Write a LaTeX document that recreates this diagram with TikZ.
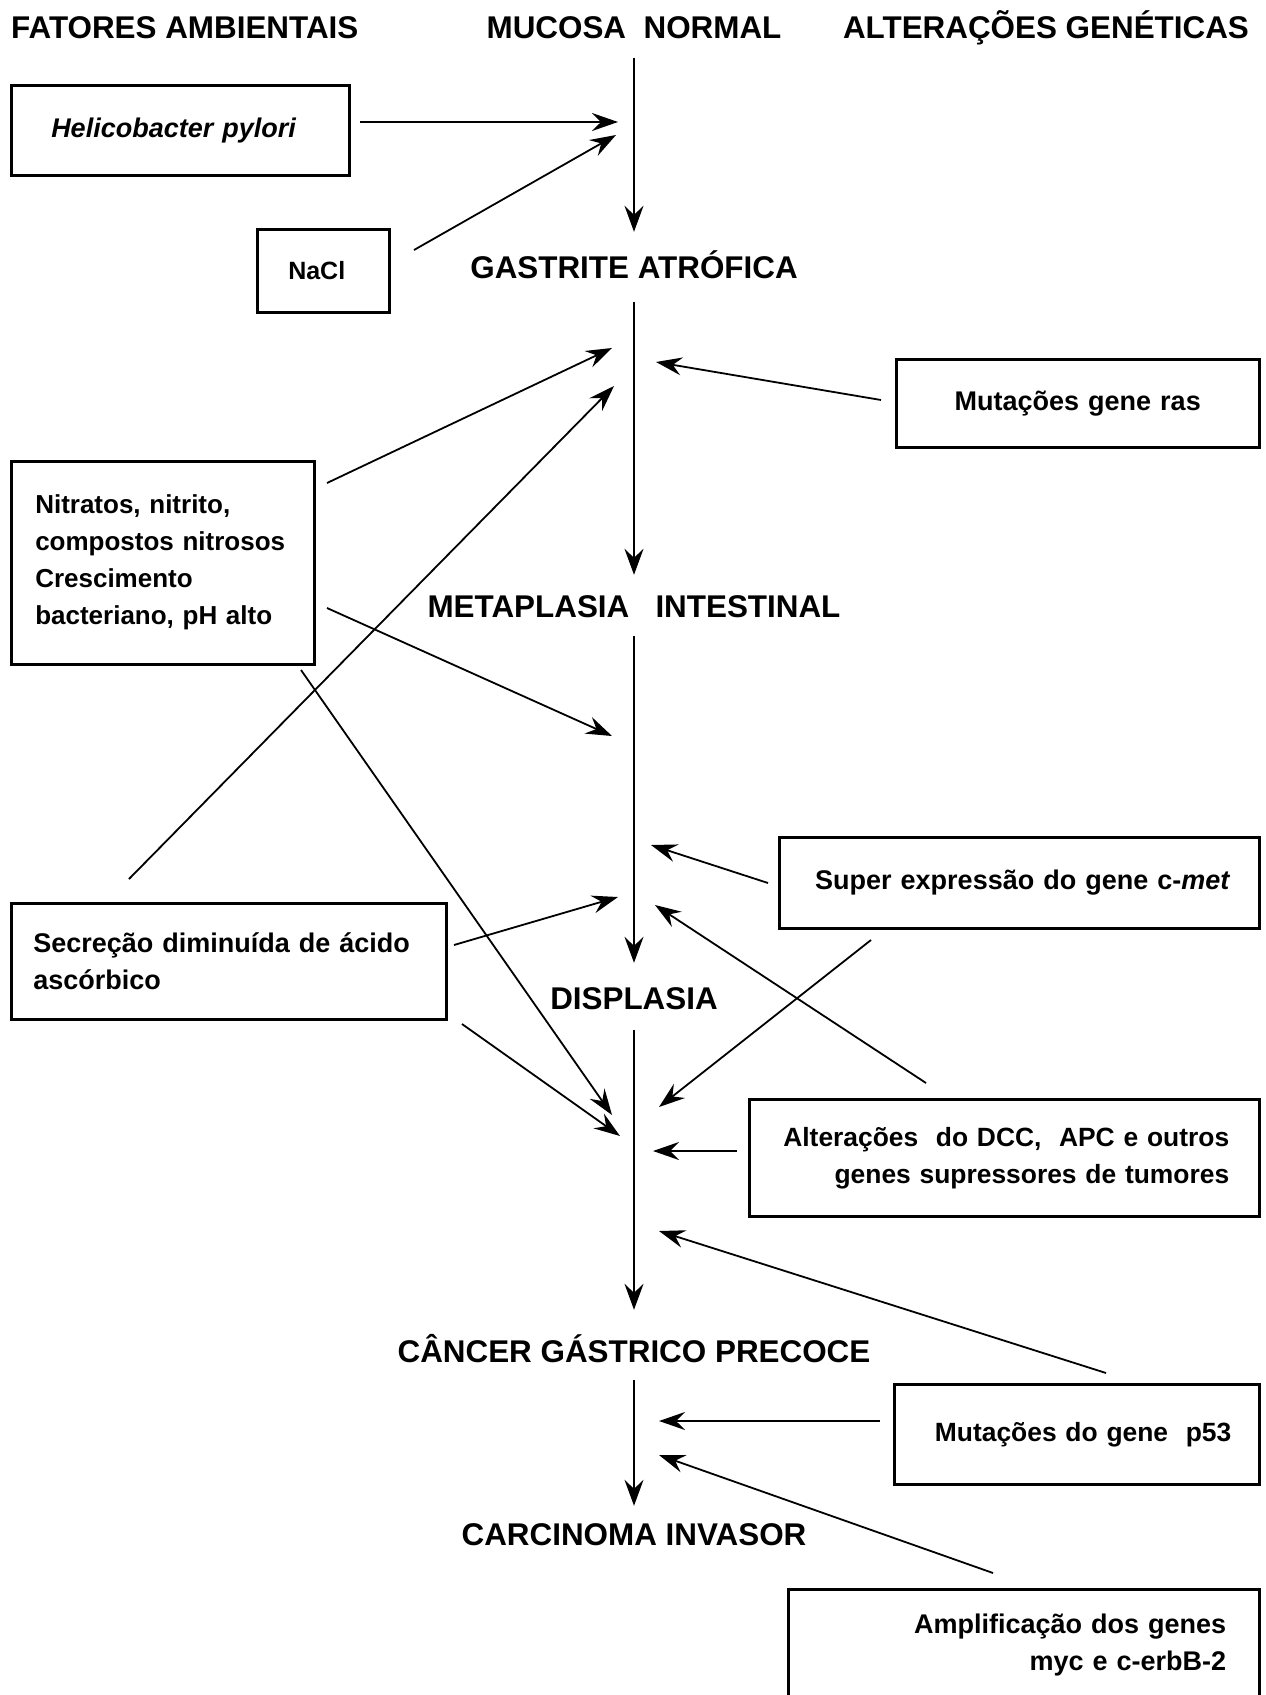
\documentclass[tikz,border=0pt]{standalone}
\usepackage{fontspec}
\setmainfont{Liberation Sans}
\usetikzlibrary{arrows.meta}
\newcommand\hdfont{\fontsize{31.4}{38}\selectfont\bfseries}
\newcommand\bxfont{\fontsize{27}{37}\selectfont\bfseries}
\begin{document}
\begin{tikzpicture}[x=1pt,y=-1pt,
  head/.style={font=\hdfont, inner sep=0pt, text height=23pt, text depth=0pt, anchor=base},
  box/.style={draw, line width=2.5pt, font=\bxfont, inner ysep=0pt, anchor=north west},
  mainline/.style={line width=1.6pt, -{Stealth[length=26pt,width=19pt,inset=9pt]}},
  conn/.style={line width=1.8pt, -{Stealth[length=26pt,width=18pt,inset=9pt]}},
]
\useasboundingbox (0,0) rectangle (1266,1695);

% headings
\node[head, anchor=base west] (fatores) at (11,38) {FATORES AMBIENTAIS};
\node[head] (mucosa) at (634,38) {MUCOSA\ \ NORMAL};
\node[head] (alteracoes) at (1046,38) {ALTERAÇÕES GENÉTICAS};
\node[head] (gastrite) at (634,278) {GASTRITE ATRÓFICA};
\node[head] (metaplasia) at (634,617) {METAPLASIA\ \ \ INTESTINAL};
\node[head] (displasia) at (634,1009) {DISPLASIA};
\node[head] (cancer) at (634,1362) {CÂNCER GÁSTRICO PRECOCE};
\node[head] (carcinoma) at (634,1545) {CARCINOMA INVASOR};

% main progression
\draw[mainline, shorten <=20pt, shorten >=23pt] (mucosa.south) -- (gastrite.north);
\draw[mainline, shorten <=24pt, shorten >=19pt] (gastrite.south) -- (metaplasia.north);
\draw[mainline, shorten <=19pt, shorten >=23pt] (metaplasia.south) -- (displasia.north);
\draw[mainline, shorten <=21pt, shorten >=29pt] (displasia.south) -- (cancer.north);
\draw[mainline, shorten <=18pt, shorten >=16pt] (cancer.south) -- (carcinoma.north);

% boxes
\node[box, minimum width=338pt, minimum height=90pt, inner xsep=40pt, text width=258pt, align=left] (helico) at (10,84) {\itshape Helicobacter pylori};
\node[box, minimum width=132pt, minimum height=83pt, inner xsep=31pt, text width=70pt, align=left, font=\fontsize{25}{30}\selectfont\bfseries] (nacl) at (256,228) {NaCl};
\node[box, minimum width=303pt, minimum height=203pt, inner xsep=24pt, text width=255pt, align=left, font=\fontsize{26}{37}\selectfont\bfseries] (nitratos) at (10,460) {Nitratos, nitrito,\\compostos nitrosos\\Crescimento\\bacteriano, pH alto};
\node[box, minimum width=435pt, minimum height=116pt, inner xsep=22pt, text width=391pt, align=left] (secrecao) at (10,902) {Secreção diminuída de ácido\\ascórbico};
\node[box, minimum width=363pt, minimum height=88pt, inner xsep=20pt, text width=323pt, align=center] (ras) at (895,358) {Mutações gene ras};
\node[box, minimum width=480pt, minimum height=91pt, inner xsep=29pt, text width=422pt, align=right] (cmet) at (778,836) {Super expressão do gene c-\textit{met}};
\node[box, minimum width=510pt, minimum height=117pt, inner xsep=30pt, text width=450pt, align=right, font=\fontsize{26.4}{37}\selectfont\bfseries] (dcc) at (748,1098) {Alterações~ do DCC,~ APC e outros\\genes supressores de tumores};
\node[box, minimum width=365pt, minimum height=100pt, inner xsep=28pt, text width=309pt, align=right, font=\fontsize{26.4}{37}\selectfont\bfseries] (p53) at (893,1383) {Mutações do gene~ p53};
\node[box, minimum width=471pt, minimum height=112pt, inner xsep=33pt, text width=405pt, align=right] (myc) at (787,1588) {Amplificação dos genes\\myc e c-erbB-2};

% connector end points
\coordinate (hs) at (360,122);  \coordinate (ht) at (618,122);
\coordinate (ns) at (414,250);  \coordinate (nt) at (616,135);
\coordinate (n1s) at (327,483); \coordinate (n1t) at (612,348);
\coordinate (ss1) at (129,879); \coordinate (st1) at (614,386);
\coordinate (rs) at (881,400);  \coordinate (rt) at (656,362);
\coordinate (n2s) at (327,608); \coordinate (n2t) at (612,736);
\coordinate (n3s) at (301,670); \coordinate (n3t) at (612,1115);
\coordinate (s2s) at (454,945); \coordinate (s2t) at (618,897);
\coordinate (s3s) at (462,1024); \coordinate (s3t) at (620,1136);
\coordinate (c1s) at (768,883); \coordinate (c1t) at (651,845);
\coordinate (c2s) at (871,940); \coordinate (c2t) at (659,1107);
\coordinate (a1s) at (926,1083); \coordinate (a1t) at (655,905);
\coordinate (a2s) at (737,1151); \coordinate (a2t) at (653,1151);
\coordinate (p1s) at (1106,1373); \coordinate (p1t) at (659,1231);
\coordinate (p2s) at (880,1421); \coordinate (p2t) at (659,1421);
\coordinate (m1s) at (993,1573); \coordinate (m1t) at (659,1455);

% connectors
\draw[conn] (hs) -- (ht);
\draw[conn] (ns) -- (nt);
\draw[conn] (n1s) -- (n1t);
\draw[conn] (ss1) -- (st1);
\draw[conn] (rs) -- (rt);
\draw[conn] (n2s) -- (n2t);
\draw[conn] (n3s) -- (n3t);
\draw[conn] (s2s) -- (s2t);
\draw[conn] (s3s) -- (s3t);
\draw[conn] (c1s) -- (c1t);
\draw[conn] (c2s) -- (c2t);
\draw[conn] (a1s) -- (a1t);
\draw[conn] (a2s) -- (a2t);
\draw[conn] (p1s) -- (p1t);
\draw[conn] (p2s) -- (p2t);
\draw[conn] (m1s) -- (m1t);
\end{tikzpicture}
\end{document}
